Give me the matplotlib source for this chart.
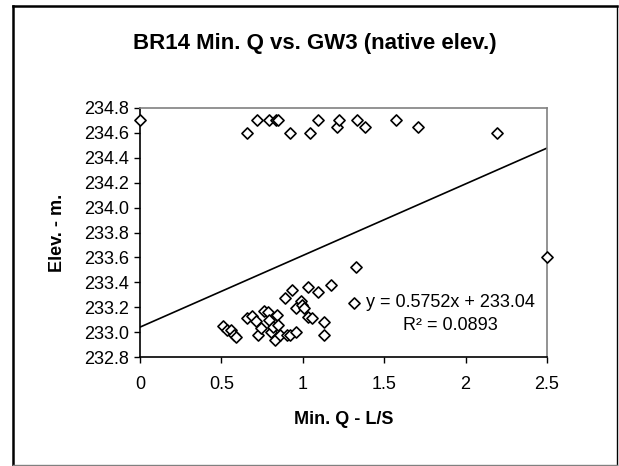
import matplotlib
matplotlib.use("Agg")
import matplotlib.pyplot as plt
from matplotlib.lines import Line2D
import numpy as np

plt.rcParams['font.family'] = ['Liberation Sans', 'DejaVu Sans']

# Min. Q (L/S) values
min_q = [0.0, 0.655, 0.72, 0.795, 0.835, 0.85, 0.92, 1.045, 1.095, 1.21, 1.22,
         1.335, 1.38, 1.575, 1.705, 2.195, 2.5, 1.325, 1.315,
         0.51, 0.535, 0.56, 0.575, 0.59, 0.655, 0.685, 0.715, 0.725, 0.745,
         0.76, 0.785, 0.795, 0.805, 0.82, 0.83, 0.84, 0.85, 0.86, 0.89,
         0.905, 0.92, 0.932, 0.96, 0.96, 0.988, 0.995, 1.005, 1.034, 1.034,
         1.054, 1.095, 1.128, 1.128, 1.171]
# GW3 elevation (m)
elev = [234.7, 234.6, 234.7, 234.7, 234.7, 234.7, 234.6, 234.6, 234.7, 234.65, 234.7,
        234.7, 234.65, 234.7, 234.65, 234.6, 233.6, 233.52, 233.23,
        233.05, 233.02, 233.02, 232.98, 232.96, 233.11, 233.13, 233.09, 232.98, 233.03,
        233.17, 233.16, 233.10, 233.00, 233.04, 232.94, 233.14, 233.06, 232.98, 233.27,
        232.98, 232.98, 233.34, 233.00, 233.19, 233.25, 233.22, 233.19, 233.36, 233.12,
        233.11, 233.32, 233.08, 232.98, 233.38]

slope = 0.5752
intercept = 233.04
r2 = 0.0893

x_ticks = [0, 0.5, 1, 1.5, 2, 2.5]
x_tick_labels = ['0', '0.5', '1', '1.5', '2', '2.5']
y_ticks = [232.8, 233.0, 233.2, 233.4, 233.6, 233.8, 234.0, 234.2, 234.4, 234.6, 234.8]

W, H = 619, 466
fig = plt.figure(figsize=(W / 100, H / 100), dpi=100)

# outer chart border (left/top/right black, bottom grey)
def fx(px):
    return px / W

def fy(py):
    return 1 - py / H

fig.lines.append(Line2D([fx(13), fx(13)], [fy(6), fy(465)], transform=fig.transFigure,
                        color='black', linewidth=1.8))
fig.lines.append(Line2D([fx(13), fx(617)], [fy(6), fy(6)], transform=fig.transFigure,
                        color='black', linewidth=1.8))
fig.lines.append(Line2D([fx(617), fx(617)], [fy(6), fy(465)], transform=fig.transFigure,
                        color='black', linewidth=1.0))
fig.lines.append(Line2D([fx(13), fx(617)], [fy(465), fy(465)], transform=fig.transFigure,
                        color='#808080', linewidth=1.0))

ax = fig.add_axes([140 / W, 1 - 357 / H, (547 - 140) / W, (357 - 108) / H])
ax.scatter(min_q, elev, marker='D', s=32, facecolors='white', edgecolors='black',
           linewidths=1.2, zorder=3, clip_on=False)

xs = np.array([0, 2.5])
ax.plot(xs, slope * xs + intercept, color='black', linewidth=1.2, zorder=2)

ax.set_xlim(0, 2.5)
ax.set_ylim(232.8, 234.8)
ax.set_xticks(x_ticks)
ax.set_xticklabels(x_tick_labels)
ax.set_yticks(y_ticks)
ax.set_yticklabels([f'{v:.1f}' for v in y_ticks])
ax.tick_params(direction='out', length=4, width=1, labelsize=13, colors='black')
ax.tick_params(axis='y', pad=4)
ax.tick_params(axis='x', pad=10)

for s in ['left', 'bottom']:
    ax.spines[s].set_color('black')
    ax.spines[s].set_linewidth(1.2)
for s in ['top', 'right']:
    ax.spines[s].set_color('#808080')
    ax.spines[s].set_linewidth(1.2)

ax.text(1.904, 233.24, f'y = {slope}x + {intercept}', fontsize=13, ha='center', va='center')
ax.text(1.904, 233.05, f'R\u00b2 = {r2}', fontsize=13, ha='center', va='center')

fig.text(315 / W, 1 - 43 / H, 'BR14 Min. Q vs. GW3 (native elev.)', fontsize=16,
         fontweight='bold', ha='center', va='center')
fig.text(343.5 / W, 1 - 420 / H, 'Min. Q - L/S', fontsize=13, fontweight='bold',
         ha='center', va='center')
fig.text(57 / W, 1 - 233 / H, 'Elev. - m.', fontsize=13, fontweight='bold',
         ha='center', va='center', rotation=90)

fig.savefig('out.png', dpi=100)
